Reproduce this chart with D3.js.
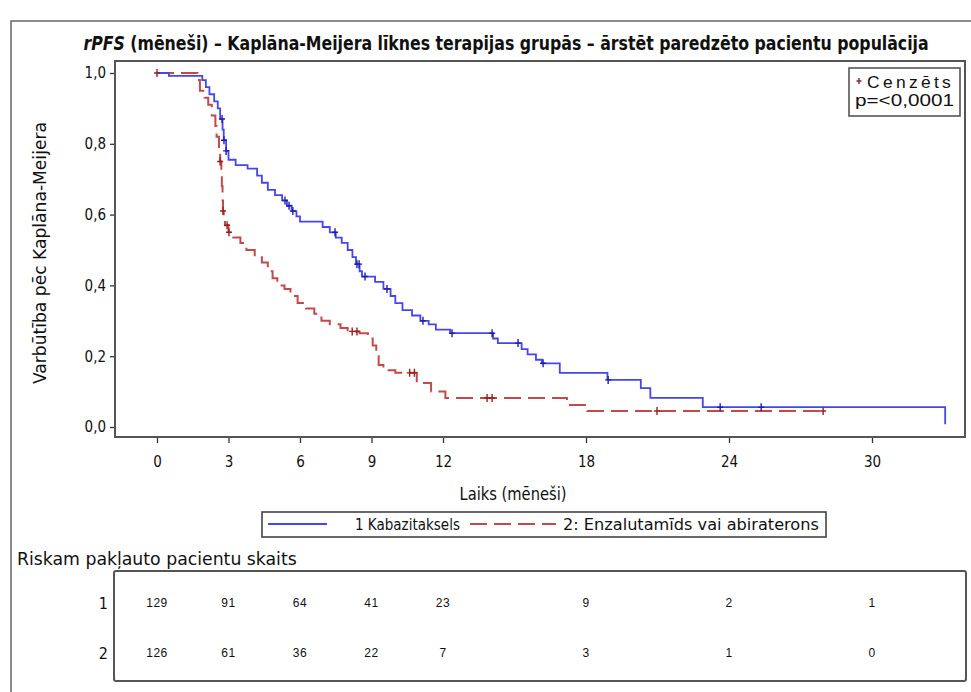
<!DOCTYPE html>
<html>
<head>
	<meta charset="utf-8">
	<title>rPFS Kaplāna-Meijera līknes</title>
	<script src="https://d3js.org/d3.v7.min.js"></script>
	<style>
		body { margin: 0; background: #fff; }
		text { font-family: 'Liberation Sans Narrow', 'Arial Narrow', 'DejaVu Sans Condensed', sans-serif; fill: #111; }
	</style>
</head>
<body>
	<div class="chart"></div>

	<script type="text/javascript">

		// grupa 1: Kabazitaksels (laiks mēnešos, izdzīvošana pēc soļa)
		var kabTimes = [0, 0.5, 1.9, 2.05, 2.2, 2.4, 2.55, 2.65, 2.75, 2.8, 2.9, 3.0, 3.3, 3.8, 4.2, 4.4, 4.65, 4.95, 5.25, 5.45, 5.65, 5.85, 6.0,
			6.95, 7.25, 7.5, 7.75, 8.0, 8.2, 8.35, 8.5, 8.6, 9.15, 9.5, 9.8, 10.0, 10.3, 10.7, 11.05, 11.4, 11.7, 12.3,
			14.1, 14.3, 15.3, 15.55, 15.9, 16.15, 16.9, 18.9, 20.3, 20.7, 22.9]
		var kabSurv = [1.0, 0.992, 0.98, 0.96, 0.94, 0.92, 0.90, 0.87, 0.84, 0.81, 0.78, 0.755, 0.74, 0.73, 0.71, 0.69, 0.67, 0.655, 0.64, 0.625, 0.61, 0.595, 0.58,
			0.565, 0.55, 0.535, 0.52, 0.50, 0.48, 0.46, 0.44, 0.425, 0.41, 0.39, 0.37, 0.35, 0.33, 0.315, 0.30, 0.29, 0.275, 0.265,
			0.25, 0.237, 0.22, 0.205, 0.19, 0.18, 0.153, 0.133, 0.11, 0.082, 0.056]
		var kabEnd = 33.07
		var kabCens = [2.73, 2.81, 2.9, 5.37, 5.54, 5.7, 7.47, 8.39, 8.48, 8.73, 9.65, 11.16, 12.38, 14.06, 15.15, 16.2, 18.93, 23.63, 25.35]

		// grupa 2: Enzalutamīds vai abiraterons
		var enzTimes = [0, 1.7, 1.8, 2.0, 2.15, 2.3, 2.45, 2.5, 2.6, 2.65, 2.7, 2.72, 2.75, 2.77, 2.8, 2.85, 3.0, 3.2, 3.5, 3.75, 4.1, 4.4,
			4.65, 4.85, 5.05, 5.35, 5.6, 5.9, 6.25, 6.6, 6.9, 7.25, 7.7, 8.0, 8.5, 8.85, 9.05, 9.2, 9.3, 9.5, 10.0,
			10.9, 11.5, 12.1, 17.2, 18.05]
		var enzSurv = [1.0, 0.98, 0.95, 0.93, 0.91, 0.88, 0.85, 0.82, 0.78, 0.75, 0.72, 0.68, 0.64, 0.61, 0.59, 0.57, 0.55, 0.535, 0.52, 0.50, 0.485, 0.465,
			0.44, 0.42, 0.40, 0.39, 0.37, 0.35, 0.335, 0.32, 0.30, 0.29, 0.28, 0.27, 0.265, 0.25, 0.23, 0.20, 0.175, 0.16, 0.153,
			0.124, 0.10, 0.082, 0.062, 0.045]
		var enzEnd = 27.95
		var enzCens = [0, 2.65, 2.77, 2.94, 3.02, 8.19, 8.39, 10.6, 10.8, 13.85, 14.06, 20.98, 27.95]

		// riskam pakļautie
		var riskTimes = [0, 3, 6, 9, 12, 18, 24, 30]
		var risk1 = [129, 91, 64, 41, 23, 9, 2, 1]
		var risk2 = [126, 61, 36, 22, 7, 3, 1, 0]

		var xTicks = [0, 3, 6, 9, 12, 18, 24, 30]
		var yTicks = [0, 0.2, 0.4, 0.6, 0.8, 1.0]

		var width = 971
		var height = 692
		var plot = { left: 115, right: 965, top: 61, bottom: 437 }

		var blue = '#4646ea'
		var red = '#c24a4a'

		var svg = d3.select('.chart').append('svg')
			.attr('width', width)
			.attr('height', height)

		// teksts, kas horizontāli saspiests līdz vajadzīgajam platumam (šaurais fonts)
		function label(px, py, str, size, target, opts) {
			opts = opts || {}
			var t = svg.append('text')
				.attr('x', 0).attr('y', 0)
				.attr('text-anchor', opts.anchor || 'start')
				.style('font-size', size + 'px')
			if (opts.weight) t.style('font-weight', opts.weight)
			if (opts.family) t.style('font-family', opts.family)
			if (opts.spacing) t.style('letter-spacing', opts.spacing)
			if (opts.build) opts.build(t)
			else t.text(str)
			var w = t.node().getComputedTextLength()
			var s = target && w > 0 ? target / w : 1
			t.attr('transform', `translate(${px},${py}) rotate(${opts.rotate || 0}) scale(${s.toFixed(3)},1)`)
			return t
		}

		// ārējais rāmis
		svg.append('path')
			.attr('d', `M971,21 H11 V692`)
			.attr('fill', 'none')
			.attr('stroke', '#666')
			.attr('stroke-width', 1.5)

		// virsraksts
		label(506, 50, null, 19, 846, {
			anchor: 'middle',
			weight: 'bold',
			build: (t) => {
				t.append('tspan').style('font-style', 'italic').text('rPFS')
				t.append('tspan').text(' (mēneši) – Kaplāna-Meijera līknes terapijas grupās – ārstēt paredzēto pacientu populācija')
			}
		})

		/**
		 * skalas
		 */
		var x = d3.scaleLinear().domain([0, 30]).range([157, 872])
		var y = d3.scaleLinear().domain([0, 1]).range([427, 73])

		var comma = (v) => d3.format('.1f')(v).replace('.', ',')

		// asis
		var yAxis = svg.append('g')
			.attr('transform', `translate(${plot.left},0)`)
			.call(d3.axisLeft(y).tickValues(yTicks).tickFormat(comma).tickSize(5).tickPadding(4))
		yAxis.select('.domain').remove()
		yAxis.selectAll('line').attr('stroke', '#333').attr('stroke-width', 1.3)
		yAxis.selectAll('text').style('font-size', '15px').attr('fill', '#111')

		var xAxis = svg.append('g')
			.attr('transform', `translate(0,${plot.bottom})`)
			.call(d3.axisBottom(x).tickValues(xTicks).tickSize(6).tickPadding(13))
		xAxis.select('.domain').remove()
		xAxis.selectAll('line').attr('stroke', '#333').attr('stroke-width', 1.3)
		xAxis.selectAll('text').style('font-size', '15px').attr('fill', '#111')

		// zīmēšanas laukuma rāmis
		svg.append('rect')
			.attr('x', plot.left)
			.attr('y', plot.top)
			.attr('width', plot.right - plot.left)
			.attr('height', plot.bottom - plot.top)
			.attr('fill', 'none')
			.attr('stroke', '#555')
			.attr('stroke-width', 2)

		label(513, 500, 'Laiks (mēneši)', 18, 107, { anchor: 'middle' })
		label(46, 253, 'Varbūtība pēc Kaplāna-Meijera', 18, 262, { anchor: 'middle', rotate: -90 })

		/**
		 * KM līknes
		 */
		function steps(times, surv, end) {
			var pts = times.map((t, i) => [t, surv[i]])
			pts.push([end, surv[surv.length - 1]])
			return pts
		}
		function survAt(times, surv, t) {
			var i = d3.bisectRight(times, t) - 1
			return surv[Math.max(i, 0)]
		}

		var line = d3.line()
			.x((d) => x(d[0]))
			.y((d) => y(d[1]))
			.curve(d3.curveStepAfter)

		var kabPts = steps(kabTimes, kabSurv, kabEnd)
		kabPts.push([kabEnd, 0.008])
		var enzPts = steps(enzTimes, enzSurv, enzEnd)

		svg.append('path')
			.attr('d', line(enzPts))
			.attr('fill', 'none')
			.attr('stroke', red)
			.attr('stroke-width', 2)
			.attr('stroke-dasharray', '17,7')

		svg.append('path')
			.attr('d', line(kabPts))
			.attr('fill', 'none')
			.attr('stroke', blue)
			.attr('stroke-width', 1.8)

		var cross = 'M-3,0H3M0,-4V4'
		svg.selectAll('.cens-kab')
			.data(kabCens)
			.enter()
			.append('path')
			.attr('class', 'cens-kab')
			.attr('d', cross)
			.attr('transform', (t) => `translate(${x(t)},${y(survAt(kabTimes, kabSurv, t))})`)
			.attr('stroke', '#2020b0')
			.attr('stroke-width', 1.4)

		svg.selectAll('.cens-enz')
			.data(enzCens)
			.enter()
			.append('path')
			.attr('class', 'cens-enz')
			.attr('d', cross)
			.attr('transform', (t) => `translate(${x(t)},${y(survAt(enzTimes, enzSurv, t))})`)
			.attr('stroke', '#9a2020')
			.attr('stroke-width', 1.4)

		// cenzēto leģenda
		svg.append('rect')
			.attr('x', 849).attr('y', 68).attr('width', 111).attr('height', 48)
			.attr('fill', '#fff').attr('stroke', '#555').attr('stroke-width', 1.6)
		svg.append('path')
			.attr('d', 'M-2.5,0H2.5M0,-3V3')
			.attr('transform', 'translate(859,81)')
			.attr('stroke', '#8a2050')
			.attr('stroke-width', 1.4)
		label(867, 88, 'Cenzēts', 16, 87, { family: 'Liberation Sans, Arial, sans-serif', spacing: '3px' })
		label(855, 106, 'p=<0,0001', 16, 99, { family: 'Liberation Sans, Arial, sans-serif' })

		// grupu leģenda
		svg.append('rect')
			.attr('x', 262).attr('y', 512).attr('width', 564).attr('height', 25)
			.attr('fill', '#fff').attr('stroke', '#444').attr('stroke-width', 1.6)
		svg.append('line')
			.attr('x1', 268).attr('x2', 327).attr('y1', 524).attr('y2', 524)
			.attr('stroke', blue).attr('stroke-width', 2)
		label(355, 530, '1 Kabazitaksels', 16, 105)
		svg.append('line')
			.attr('x1', 470).attr('x2', 556).attr('y1', 524).attr('y2', 524)
			.attr('stroke', red).attr('stroke-width', 2)
			.attr('stroke-dasharray', '17,7')
		label(563, 530, '2: Enzalutamīds vai abiraterons', 16, 256)

		/**
		 * riska tabula
		 */
		label(17, 565, 'Riskam pakļauto pacientu skaits', 18, 280)

		svg.append('rect')
			.attr('x', 114).attr('y', 571).attr('width', 852).attr('height', 110)
			.attr('rx', 2)
			.attr('fill', 'none').attr('stroke', '#555').attr('stroke-width', 2)

		var rows = [{ label: '1', vals: risk1, y: 603 }, { label: '2', vals: risk2, y: 653 }]
		rows.forEach((r) => {
			svg.append('text')
				.attr('x', 108).attr('y', r.y + 6)
				.attr('text-anchor', 'end')
				.style('font-size', '16px')
				.text(r.label)
			svg.selectAll(null)
				.data(r.vals)
				.enter()
				.append('text')
				.attr('x', (d, i) => x(riskTimes[i]))
				.attr('y', r.y + 4)
				.attr('text-anchor', 'middle')
				.style('font-family', 'Liberation Sans, Arial, sans-serif')
				.style('font-size', '12px')
				.style('letter-spacing', '0.5px')
				.attr('fill', '#222')
				.text((d) => d)
		})

	</script>
</body>
</html>
